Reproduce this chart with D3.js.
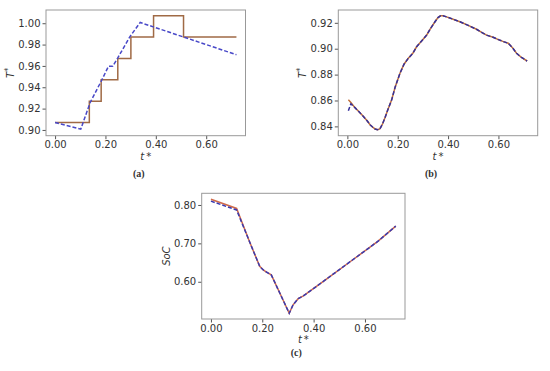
<!DOCTYPE html>
<html>
<head>
<meta charset="utf-8">
<title>T* and SoC estimation</title>
<script src="https://d3js.org/d3.v7.min.js"></script>
<style>
  body { margin: 0; background: #fff; }
  svg { display: block; }
  .tick text { font-family: "DejaVu Sans", sans-serif; font-size: 10px; fill: #333; }
  .tick line { stroke: #555; }
  .frame { fill: none; stroke: #999; stroke-width: 1; }
  .lbl { font-family: "DejaVu Sans", sans-serif; font-size: 10px; fill: #333; font-style: italic; }
  .cap { font-family: "Liberation Serif", serif; font-size: 10px; font-weight: bold; fill: #333; }
</style>
</head>
<body>
<svg id="fig" width="550" height="371"></svg>
<script>
// ---- data ----
// (a) step reference and estimated T*
const stepT = [0, 0.136, 0.183, 0.249, 0.301, 0.391, 0.510, 0.72];
const stepV = [0.907, 0.927, 0.947, 0.967, 0.987, 1.007, 0.987, 0.987];
const aEstT = [0, 0.102, 0.139, 0.186, 0.212, 0.229, 0.249, 0.296, 0.338, 0.72];
const aEstV = [0.907, 0.9007, 0.9255, 0.947, 0.9597, 0.9597, 0.9675, 0.987, 1.0007, 0.9705];

// (b) measured and estimated T*
const bT = [0.004, 0.014, 0.03, 0.05, 0.063, 0.08, 0.09, 0.10, 0.11, 0.12, 0.129, 0.14, 0.149, 0.16,
  0.176, 0.19, 0.209, 0.225, 0.242, 0.26, 0.275, 0.295, 0.315, 0.33, 0.348, 0.36, 0.37, 0.38, 0.394,
  0.42, 0.447, 0.48, 0.513, 0.535, 0.553, 0.579, 0.60, 0.62, 0.639, 0.655, 0.672, 0.69, 0.714];
const bMeas = [0.8605, 0.8585, 0.8545, 0.8505, 0.8478, 0.8440, 0.8413, 0.8395, 0.8380, 0.8375, 0.8380,
  0.8420, 0.8465, 0.8525, 0.8605, 0.8705, 0.8810, 0.8880, 0.8926, 0.8965, 0.9015, 0.9060, 0.9105,
  0.9155, 0.9208, 0.9240, 0.9254, 0.9255, 0.9246, 0.9228, 0.9208, 0.9180, 0.9150, 0.9125, 0.9105,
  0.9088, 0.9070, 0.9055, 0.9042, 0.9010, 0.8965, 0.8935, 0.8905];
const bEst = [0.852, 0.8575].concat(bMeas.slice(2));

// (c) measured and estimated SoC
const cT = [0, 0.10, 0.15, 0.19, 0.205, 0.215, 0.235, 0.27, 0.305, 0.32, 0.34, 0.36, 0.45, 0.55, 0.65, 0.72];
const cMeas = [0.815, 0.791, 0.705, 0.640, 0.630, 0.626, 0.618, 0.568, 0.518, 0.540, 0.556, 0.563, 0.607, 0.656, 0.705, 0.745];
const cEst = [0.810, 0.787].concat(cMeas.slice(2));

const xTicks = [0, 0.2, 0.4, 0.6];
const aTicks = [0.90, 0.92, 0.94, 0.96, 0.98, 1.00];
const bTicks = [0.84, 0.86, 0.88, 0.90, 0.92];
const cTicks = [0.60, 0.70, 0.80];

const svg = d3.select('#fig');
const fmt = d3.format('.2f');

function panel(box, yDomain, yTicks, yLabel, caption) {
  const g = svg.append('g').attr('transform', `translate(${box.x},${box.y})`);
  const x = d3.scaleLinear().domain([-0.036, 0.756]).range([0, box.w]);
  const y = d3.scaleLinear().domain(yDomain).range([box.h, 0]);

  g.append('g').attr('transform', `translate(0,${box.h})`)
    .call(d3.axisBottom(x).tickValues(xTicks).tickFormat(fmt).tickSize(3.5).tickPadding(2))
    .call(s => s.select('.domain').remove());
  g.append('g')
    .call(d3.axisLeft(y).tickValues(yTicks).tickFormat(fmt).tickSize(3.5).tickPadding(2))
    .call(s => s.select('.domain').remove());

  g.append('rect').attr('class', 'frame').attr('width', box.w).attr('height', box.h);

  const tl = g.append('text').attr('class', 'lbl').attr('text-anchor', 'middle')
    .attr('x', box.w / 2).attr('y', box.h + 24);
  tl.append('tspan').text('t');
  tl.append('tspan').attr('font-style', 'normal').attr('dx', 2).text('*');

  const yl = g.append('text').attr('class', 'lbl').attr('text-anchor', 'middle')
    .attr('transform', `translate(${-32},${box.h / 2}) rotate(-90)`);
  if (yLabel === 'T') {
    yl.append('tspan').text('T');
    yl.append('tspan').attr('font-style', 'normal').attr('font-size', 8).attr('dy', -3).text('*');
  } else {
    yl.text(yLabel);
  }

  svg.append('text').attr('class', 'cap').attr('text-anchor', 'middle')
    .attr('x', box.x + box.w / 2 - 7).attr('y', box.capY).text(caption);
  return { g, x, y };
}

function draw(p, ts, vs, color, dashed, curve) {
  const pts = ts.map((t, i) => [t, vs[i]]);
  p.g.append('path').datum(pts)
    .attr('fill', 'none')
    .attr('stroke', color)
    .attr('stroke-width', 1.5)
    .attr('stroke-dasharray', dashed ? '4,2' : null)
    .attr('d', d3.line().x(d => p.x(d[0])).y(d => p.y(d[1])).curve(curve || d3.curveLinear));
}

const pa = panel({ x: 46, y: 10, w: 199.5, h: 125.7, capY: 177 }, [0.8946, 1.0124], aTicks, 'T', '(a)');
draw(pa, stepT, stepV, '#a06a45', false, d3.curveStepAfter);
draw(pa, aEstT, aEstV, '#4848c8', true);

const pb = panel({ x: 338.3, y: 10, w: 199.4, h: 125.7, capY: 177 }, [0.8328, 0.9299], bTicks, 'T', '(b)');
draw(pb, bT, bMeas, '#c0703a', false);
draw(pb, bT, bEst, '#35309a', true);

const pc = panel({ x: 201.7, y: 193.3, w: 203.3, h: 125.7, capY: 356 }, [0.503, 0.8304], cTicks, 'SoC', '(c)');
draw(pc, cT, cMeas, '#d06a4a', false);
draw(pc, cT, cEst, '#3a3ab0', true);
</script>
</body>
</html>
